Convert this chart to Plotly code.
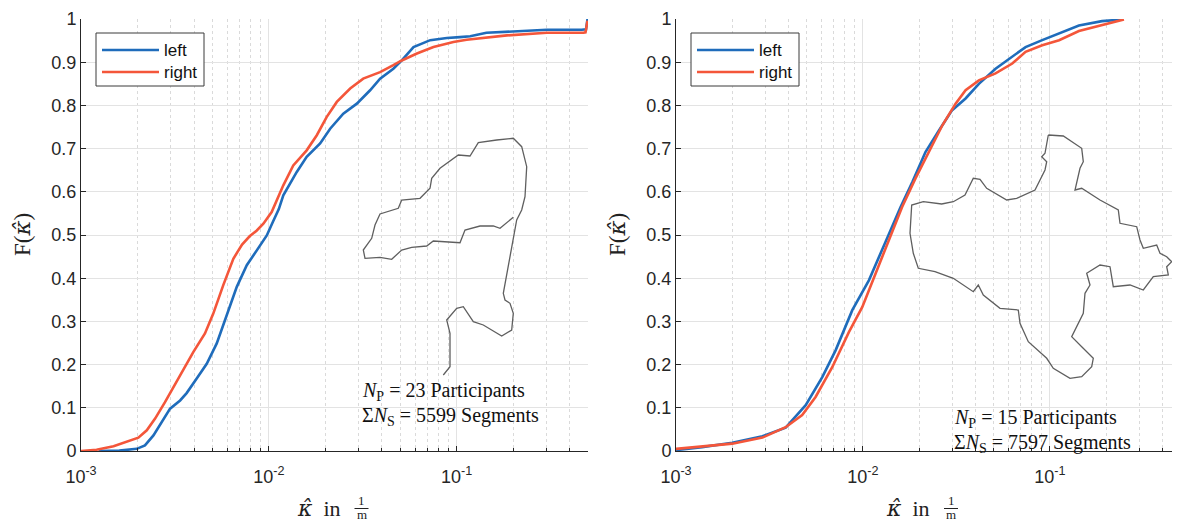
import math
import plotly.graph_objects as go

# ---------------- data ----------------
# Left panel (23 participants)
p1_left_x = [1.24e-3, 1.6e-3, 1.98e-3, 2.19e-3, 2.43e-3, 2.69e-3, 2.98e-3, 3.37e-3, 3.65e-3, 4.13e-3,
             4.67e-3, 5.28e-3, 5.97e-3, 6.75e-3, 7.63e-3, 8.62e-3, 9.75e-3, 0.0105, 0.0113, 0.01194,
             0.01408, 0.0159, 0.01875, 0.0212, 0.0249, 0.0294, 0.0346, 0.0391, 0.0460, 0.0510,
             0.0589, 0.0723, 0.0886, 0.104, 0.118, 0.144, 0.218, 0.302, 0.463, 0.488, 0.497]
p1_left_y = [0.0, 0.001, 0.005, 0.013, 0.036, 0.067, 0.098, 0.117, 0.134, 0.168,
             0.202, 0.249, 0.314, 0.380, 0.430, 0.465, 0.499, 0.530, 0.560, 0.592,
             0.646, 0.681, 0.712, 0.746, 0.781, 0.804, 0.835, 0.862, 0.885, 0.904,
             0.935, 0.951, 0.956, 0.958, 0.960, 0.968, 0.971, 0.975, 0.975, 0.976, 1.0]
p1_right_x = [1.0e-3, 1.21e-3, 1.49e-3, 1.79e-3, 2.02e-3, 2.24e-3, 2.48e-3, 2.80e-3, 3.10e-3, 3.51e-3,
              3.96e-3, 4.57e-3, 5.06e-3, 5.72e-3, 6.47e-3, 7.2e-3, 7.9e-3, 8.6e-3, 9.35e-3, 0.01035,
              0.0110, 0.01194, 0.01349, 0.0159, 0.0180, 0.0203, 0.0230, 0.0271, 0.0318, 0.0391,
              0.0460, 0.0510, 0.0614, 0.0752, 0.0960, 0.113, 0.185, 0.302, 0.473, 0.485, 0.497]
p1_right_y = [0.0, 0.003, 0.011, 0.023, 0.031, 0.048, 0.075, 0.113, 0.148, 0.191,
              0.229, 0.272, 0.318, 0.384, 0.445, 0.478, 0.497, 0.510, 0.526, 0.553,
              0.580, 0.615, 0.661, 0.696, 0.731, 0.773, 0.808, 0.839, 0.862, 0.877,
              0.893, 0.904, 0.920, 0.935, 0.947, 0.952, 0.962, 0.968, 0.968, 0.969, 0.996]

# Right panel (15 participants)
p2_left_x = [1.0e-3, 1.38e-3, 2.0e-3, 2.9e-3, 3.86e-3, 4.94e-3, 6.06e-3, 7.14e-3, 8.77e-3, 0.01076,
             0.0132, 0.0159, 0.0184, 0.0216, 0.0255, 0.0300, 0.0354, 0.0417, 0.0512, 0.0604,
             0.0741, 0.0910, 0.112, 0.143, 0.190, 0.244]
p2_left_y = [0.002, 0.009, 0.019, 0.034, 0.054, 0.106, 0.171, 0.233, 0.326, 0.395,
             0.484, 0.565, 0.623, 0.692, 0.742, 0.789, 0.816, 0.850, 0.885, 0.908,
             0.935, 0.951, 0.966, 0.985, 0.995, 0.999]
p2_right_x = [1.0e-3, 2.0e-3, 2.9e-3, 3.86e-3, 4.73e-3, 5.58e-3, 6.85e-3, 8.41e-3, 9.91e-3, 0.0117,
              0.0138, 0.0162, 0.0191, 0.0226, 0.0266, 0.0313, 0.0354, 0.0417, 0.0512, 0.0629,
              0.0741, 0.0910, 0.112, 0.143, 0.195, 0.249]
p2_right_y = [0.005, 0.017, 0.031, 0.055, 0.083, 0.125, 0.194, 0.275, 0.333, 0.411,
              0.488, 0.565, 0.631, 0.692, 0.754, 0.804, 0.835, 0.858, 0.874, 0.897,
              0.924, 0.939, 0.951, 0.972, 0.988, 0.999]

series_names = ["left", "right"]
x_ticks = [1e-3, 1e-2, 1e-1]
x_ticktext = ["10<sup>-3</sup>", "10<sup>-2</sup>", "10<sup>-1</sup>"]
y_ticks = [0, 0.1, 0.2, 0.3, 0.4, 0.5, 0.6, 0.7, 0.8, 0.9, 1]

panel_texts = [("23", "5599"), ("15", "7597")]

# traced route outlines (inset sketch), in figure pixel frame
track1_x = [443.3, 450, 450, 446.7, 456.7, 463.3, 473.3, 483.3, 501.7, 511.7, 513.3, 510, 505, 503.3,
            516.7, 521.7, 525, 526.7, 521.7, 513.3, 496.7, 478.3, 470, 458.3, 440, 431.7, 430, 420,
            401.7, 398.3, 380, 375, 371.7, 363.3, 365, 380, 391.7, 401.7, 411.7, 426.7, 433.3, 460,
            465, 480, 493.3, 500, 513.3]
track1_y = [375, 366.7, 333.3, 320, 308.3, 306.7, 321.7, 325, 336, 330, 313.3, 303.3, 300, 293.3,
            220, 210, 196.7, 166.7, 146.7, 138.3, 140, 142.7, 156, 155, 168.3, 178.3, 188.3, 198.3,
            200, 208.3, 214, 225, 238.3, 250, 258.3, 257.3, 259.3, 250, 247.3, 246, 241, 242.7,
            230, 226, 226, 228.3, 217.3]
track2_x = [1048.3, 1063.3, 1081.7, 1083.3, 1080, 1076.7, 1075, 1081.7, 1100, 1118.3, 1120, 1136.7,
            1140, 1143.3, 1156.7, 1160, 1166.7, 1171.7, 1166.7, 1168.3, 1153.3, 1143.3, 1130, 1113.3,
            1110, 1100, 1086.7, 1090, 1085, 1083.3, 1071.7, 1081.7, 1093.3, 1091.7, 1081.7, 1070,
            1053.3, 1046.7, 1028.3, 1020, 1018.3, 1000, 983.3, 978.3, 973.3, 953.3, 935, 918.3,
            913.3, 910, 911.7, 923.3, 941.7, 953.3, 965, 973.3, 980, 986.7, 1006.7, 1016.7, 1035,
            1045, 1046.7, 1041.7, 1045, 1048.3]
track2_y = [135, 136, 148.3, 161.7, 168.3, 185, 190, 188.3, 200, 210, 223.3, 226.7,
            240, 248.3, 245, 253.3, 256.7, 261.7, 266.7, 275, 276.7, 290, 285, 286.7,
            266.7, 265, 273.3, 285, 293.3, 313.3, 336.7, 346.7, 358.3, 366.7, 376.7, 378.3,
            368.3, 358.3, 341.7, 323.3, 310, 308.3, 295, 285, 291.7, 278.3, 271.7, 268.3,
            253.3, 233.3, 205, 201.7, 204, 201.7, 195, 178.3, 179.3, 188.3, 200, 198.3, 190,
            170, 161.7, 156.7, 153.3, 135]

# ---------------- layout helpers ----------------
W, H = 1179, 524
L, R, T, B = 81, 7, 19, 73
PW, PH = W - L - R, H - T - B
panels = [(81, 588), (676, 1172)]
xmax = [0.5, 0.45]


def px(x):
    return (x - L) / PW


def py(y):
    return (H - B - y) / PH


BLUE = "#1F6CBB"
RED = "#F4563A"
AX = "#262626"
GRID = "#e3e3e3"
MINOR = "#dadada"
SANS = "Liberation Sans, Arial, sans-serif"
SERIF = "Liberation Serif, Times New Roman, serif"
KAPPA = '<span style="font-family:DejaVu Serif"><i>κ̂</i></span>'

fig = go.Figure()
data = [((p1_left_x, p1_left_y), (p1_right_x, p1_right_y)),
        ((p2_left_x, p2_left_y), (p2_right_x, p2_right_y))]
tracks = [(track1_x, track1_y), (track2_x, track2_y)]

for i, (sl, sr) in enumerate(data):
    xa = "x" if i == 0 else "x2"
    ya = "y" if i == 0 else "y2"
    for (xs, ys), col, nm in zip((sl, sr), (BLUE, RED), series_names):
        fig.add_trace(go.Scatter(x=xs, y=ys, mode="lines", name=nm, showlegend=False,
                                 line=dict(color=col, width=2.6), xaxis=xa, yaxis=ya))
    tx, ty = tracks[i]
    fig.add_trace(go.Scatter(x=tx, y=ty, mode="lines", showlegend=False, hoverinfo="skip",
                             line=dict(color="#5f5f5f", width=1.3),
                             xaxis="x3" if i == 0 else "x4", yaxis="y3" if i == 0 else "y4"))


def xaxis_cfg(i):
    x0, x1 = panels[i]
    return dict(type="log", range=[-3, math.log10(xmax[i])], domain=[px(x0), px(x1)],
                anchor="y" if i == 0 else "y2",
                showline=True, linecolor=AX, linewidth=1, mirror=False,
                ticks="inside", ticklen=5, tickcolor=AX,
                tickvals=x_ticks, ticktext=x_ticktext, ticklabelstandoff=9,
                showgrid=True, gridcolor=GRID, gridwidth=1, zeroline=False,
                minor=dict(ticks="inside", ticklen=3, tickcolor=AX, dtick="D1",
                           showgrid=True, gridcolor=MINOR, griddash="dot", gridwidth=1),
                tickfont=dict(family=SANS, size=18, color=AX))


def yaxis_cfg(i):
    return dict(range=[0, 1], domain=[0, 1], anchor="x" if i == 0 else "x2",
                tickvals=y_ticks, ticktext=[("%g" % v) for v in y_ticks],
                showline=True, linecolor=AX, linewidth=1, mirror=False,
                ticks="inside", ticklen=5, tickcolor=AX,
                showgrid=True, gridcolor=GRID, gridwidth=1, zeroline=False,
                tickfont=dict(family=SANS, size=18, color=AX))


fig.update_layout(
    width=W, height=H, margin=dict(l=L, r=R, t=T, b=B),
    paper_bgcolor="white", plot_bgcolor="rgba(0,0,0,0)",
    xaxis=xaxis_cfg(0), yaxis=yaxis_cfg(0),
    xaxis2=xaxis_cfg(1), yaxis2=yaxis_cfg(1),
    xaxis3=dict(domain=[px(panels[0][0]), px(panels[0][1])], range=list(panels[0]),
                visible=False, anchor="y3"),
    yaxis3=dict(domain=[0, 1], range=[H - B, T], visible=False, anchor="x3"),
    xaxis4=dict(domain=[px(panels[1][0]), px(panels[1][1])], range=list(panels[1]),
                visible=False, anchor="y4"),
    yaxis4=dict(domain=[0, 1], range=[H - B, T], visible=False, anchor="x4"),
    showlegend=False,
)

shapes = []
ann = []
for i, (x0, x1) in enumerate(panels):
    # manual legend
    lx = x0 + 15
    shapes.append(dict(type="rect", xref="paper", yref="paper",
                       x0=px(lx), x1=px(lx + 108), y0=py(33), y1=py(86),
                       line=dict(color="#3a3a3a", width=1), fillcolor="white", layer="above"))
    for k, (col, nm, yy) in enumerate(((BLUE, series_names[0], 50), (RED, series_names[1], 72))):
        shapes.append(dict(type="line", xref="paper", yref="paper",
                           x0=px(lx + 6), x1=px(lx + 63), y0=py(yy), y1=py(yy),
                           line=dict(color=col, width=2.6), layer="above"))
        ann.append(dict(xref="paper", yref="paper", x=px(lx + 66), y=py(yy), text=nm,
                        showarrow=False, xanchor="left", yanchor="middle",
                        font=dict(family=SANS, size=17, color="#111")))
    # participant / segment text
    n_p, n_s = panel_texts[i]
    tx0 = 360 if i == 0 else 952
    ty0 = 391 if i == 0 else 418
    ann.append(dict(xref="paper", yref="paper", x=px(tx0), y=py(ty0),
                    text="<i>N</i><sub>P</sub> = %s Participants" % n_p,
                    showarrow=False, xanchor="left", yanchor="middle",
                    font=dict(family=SERIF, size=20, color="#111")))
    ann.append(dict(xref="paper", yref="paper", x=px(tx0), y=py(ty0 + 25),
                    text="Σ<i>N</i><sub>S</sub> = %s Segments" % n_s,
                    showarrow=False, xanchor="left", yanchor="middle",
                    font=dict(family=SERIF, size=20, color="#111")))
    # x axis label: kappa-hat in 1/m
    cx = (x0 + x1) / 2
    ann.append(dict(xref="paper", yref="paper", x=px(cx + 8), y=py(508),
                    text=KAPPA + "  in", showarrow=False, xanchor="right", yanchor="middle",
                    font=dict(family=SERIF, size=22, color="#222")))
    ann.append(dict(xref="paper", yref="paper", x=px(cx + 27), y=py(500),
                    text="1", showarrow=False, xanchor="center", yanchor="middle",
                    font=dict(family=SERIF, size=13, color="#222")))
    shapes.append(dict(type="line", xref="paper", yref="paper",
                       x0=px(cx + 20), x1=px(cx + 34), y0=py(508.5), y1=py(508.5),
                       line=dict(color="#222", width=1)))
    ann.append(dict(xref="paper", yref="paper", x=px(cx + 27), y=py(514.5),
                    text="m", showarrow=False, xanchor="center", yanchor="middle",
                    font=dict(family=SERIF, size=13, color="#222")))
    # y axis label
    ann.append(dict(xref="paper", yref="paper", x=px(x0 - 59), y=py(235),
                    text="F(" + KAPPA + ")", showarrow=False, textangle=-90,
                    xanchor="center", yanchor="middle",
                    font=dict(family=SERIF, size=23, color="#222")))

fig.update_layout(shapes=shapes, annotations=ann)
fig.write_html("out.html")
